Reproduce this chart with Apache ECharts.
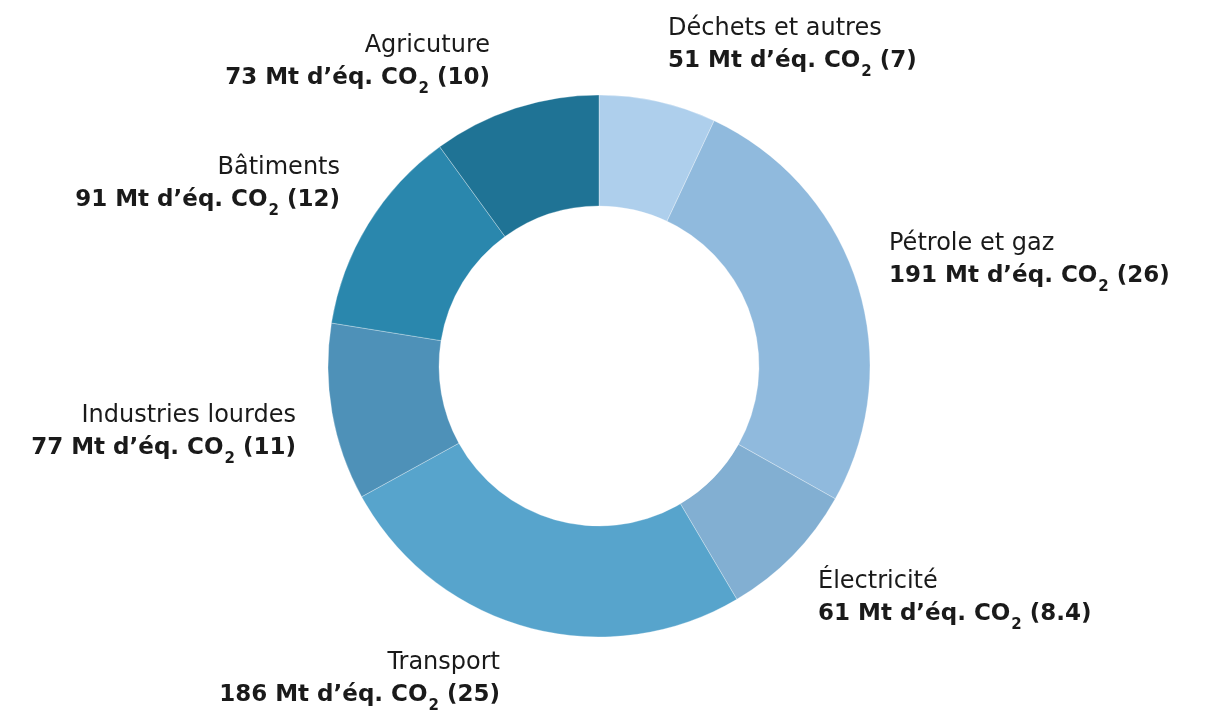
<!DOCTYPE html>
<html>
<head>
<meta charset="utf-8">
<script src="https://cdn.jsdelivr.net/npm/echarts@6/dist/echarts.min.js"></script>
<style>
  html, body { margin: 0; padding: 0; background: #fff; }
  #main { width: 1209px; height: 712px; }
</style>
</head>
<body>
<div id="main"></div>
<script>
const sectors = ['Déchets et autres', 'Pétrole et gaz', 'Électricité', 'Transport', 'Industries lourdes', 'Bâtiments', 'Agricuture']
const emissions = [51, 191, 61, 186, 77, 91, 73]
const shares = ['7', '26', '8.4', '25', '11', '12', '10']
const colors = ['#aecfec', '#90badd', '#82afd2', '#57a4cc', '#4e91b8', '#2a87ad', '#1f7395']

// where each label sits (x, vertical middle, alignment)
const labelAnchor = [
  [668, 45, 'left'],
  [889, 260, 'left'],
  [818, 598, 'left'],
  [500, 679, 'right'],
  [296, 432, 'right'],
  [340, 184, 'right'],
  [490, 62, 'right']
]

const font = 'DejaVu Sans'

const chart = echarts.init(document.getElementById('main'))
chart.setOption({
  animation: false,
  series: [{
    type: 'pie',
    center: [599, 366],
    radius: [160, 271],
    startAngle: 90,
    clockwise: true,
    avoidLabelOverlap: false,
    itemStyle: {
      borderColor: 'rgba(255,255,255,0.6)',
      borderWidth: 0.5
    },
    labelLine: { show: false },
    label: {
      show: true,
      position: 'outside',
      formatter: p => `{n|${p.name}}\n{b|${p.value} Mt d’éq. CO}{s|2}{b| (${shares[p.dataIndex]})}`,
      rich: {
        n: { fontFamily: font, fontSize: 24, color: '#1a1a1a', lineHeight: 32 },
        b: { fontFamily: font, fontSize: 23, fontWeight: 'bold', color: '#1a1a1a', lineHeight: 32 },
        s: { fontFamily: font, fontSize: 15, fontWeight: 'bold', color: '#1a1a1a', lineHeight: 32, padding: [22, 0, 0, 1] }
      }
    },
    labelLayout: p => {
      const a = labelAnchor[p.dataIndex]
      return { x: a[0], y: a[1], align: a[2], verticalAlign: 'middle' }
    },
    data: sectors.map((name, i) => ({
      name,
      value: emissions[i],
      itemStyle: { color: colors[i] }
    }))
  }]
})
</script>
</body>
</html>
